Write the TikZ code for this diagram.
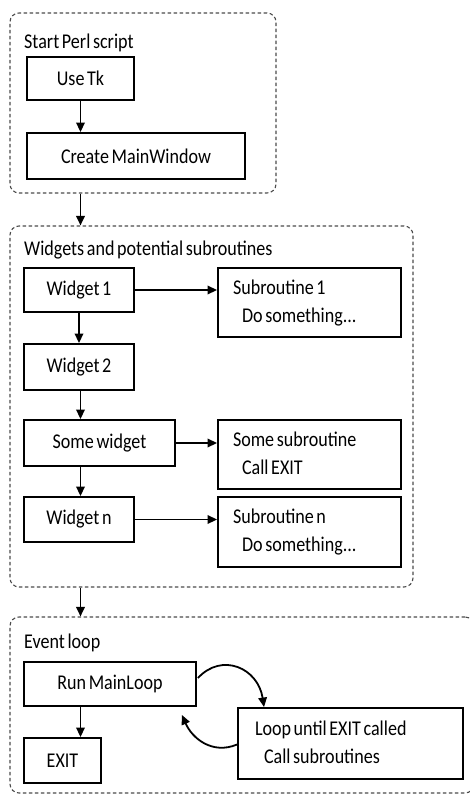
\documentclass[tikz,border=0pt]{standalone}
\usepackage{fontspec}
\setmainfont{Carlito}[FakeStretch=0.86, WordSpace=0.65]
\usetikzlibrary{arrows.meta,calc}
% two left-aligned lines, the second indented, in a block of fixed width
\newcommand{\twolines}[3]{\makebox[#1][l]{\def\arraystretch{1.12}\begin{tabular}{@{}l@{}}#2\\\hspace*{9pt}#3\end{tabular}}}
\begin{document}
\begin{tikzpicture}[x=1pt,y=-1pt,
  txt/.style={font=\fontsize{21}{25}\selectfont, text=black},
  box/.style={txt, draw, line width=1.9pt, inner sep=0pt},
  subbox/.style={box, inner xsep=15pt},
  group/.style={draw=black!70, line width=1.1pt, dash pattern=on 3.5pt off 2.5pt, rounded corners=9pt, inner sep=0pt},
  grouptitle/.style={txt, anchor=west, inner sep=0pt},
  arr/.style={line width=1.8pt, -{Triangle[length=9.5pt,width=8.5pt]}},
]
\useasboundingbox (0,0) rectangle (469,795);

% frames of the three stages
\node[group, minimum width=266, minimum height=180] (g1) at (143,103) {};
\node[group, minimum width=403, minimum height=361] (g2) at (211.5,406.5) {};
\node[group, minimum width=464, minimum height=176] (g3) at (242,705) {};

\node[grouptitle] (t1) at (24,43) {Start Perl script};
\node[grouptitle] (t2) at (24,250) {Widgets and potential subroutines};
\node[grouptitle] (t3) at (24,643) {Event loop};

% start of the script
\node[box, minimum width=107, minimum height=43] (usetk) at (80.5,78.5) {Use Tk};
\node[box, minimum width=218, minimum height=46] (cmw) at (136,156) {Create MainWindow};

% widgets and their callbacks
\node[box, minimum width=110, minimum height=44] (w1) at (79,290) {Widget 1};
\node[subbox, minimum width=183, minimum height=69] (s1) at (309.5,302.5) {\twolines{153pt}{Subroutine 1}{Do something...}};
\node[box, minimum width=110, minimum height=46] (w2) at (79,367) {Widget 2};
\node[box, minimum width=151, minimum height=46] (sw) at (99.5,443) {Some widget};
\node[subbox, minimum width=183, minimum height=69] (ss) at (309.5,454.5) {\twolines{153pt}{Some subroutine}{Call EXIT}};
\node[box, minimum width=110, minimum height=45] (wn) at (79,519.5) {Widget n};
\node[subbox, minimum width=183, minimum height=70] (sn) at (309.5,532) {\twolines{153pt}{Subroutine n}{Do something...}};

% event loop
\node[box, minimum width=172, minimum height=44] (run) at (110,684) {Run MainLoop};
\node[box, minimum width=77, minimum height=45] (exit) at (62.5,760.5) {EXIT};
\node[box, inner xsep=17pt, minimum width=225, minimum height=71] (loop) at (350.5,743.5) {\twolines{191pt}{Loop until EXIT called}{Call subroutines}};

% connectors
\draw[arr] (usetk.south) -- (usetk.south |- cmw.north);
\draw[arr] (g1.south -| usetk.south) -- (g2.north -| usetk.south);
\draw[arr] (w1.south) -- (w2.north);
\draw[arr] (w2.south -| usetk.south) -- (usetk.south |- sw.north);
\draw[arr] (sw.south -| usetk.south) -- (usetk.south |- wn.north);
\draw[arr] (g2.south -| usetk.south) -- (g3.north -| usetk.south);
\draw[arr] (w1.east) -- (s1.west |- w1.east);
\draw[arr] (sw.east) -- (ss.west |- sw.east);
\draw[arr] (wn.east) -- (sn.west |- wn.east);
\draw[arr] (run.south -| usetk.south) -- (usetk.south |- exit.north);
\draw[arr] ($(run.east)+(1,-6)$) .. controls (222,652) and (258,668) .. ($(loop.north west)+(27,0)$);
\draw[arr] ($(loop.west)+(0,1)$) .. controls (212,755) and (192,738) .. ($(run.south east)+(-15,8)$);
\end{tikzpicture}
\end{document}
